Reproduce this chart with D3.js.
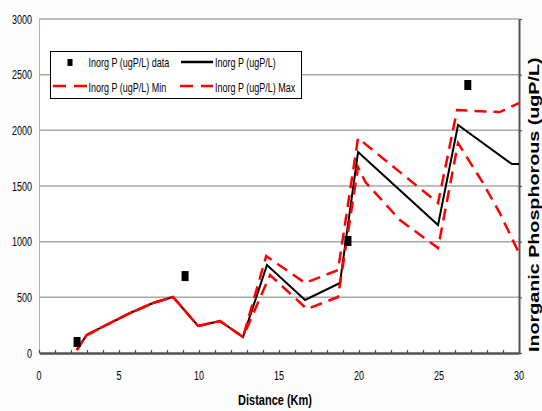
<!DOCTYPE html>
<html>
<head>
<meta charset="utf-8">
<script src="https://cdn.jsdelivr.net/npm/d3@7"></script>
<style>
  body { margin: 0; background: #fcfcfc; }
  svg text { font-family: "Liberation Sans", Arial, sans-serif; }
</style>
</head>
<body>
<div id="chart"></div>
<script>
var svgWidth = 542;
var svgHeight = 411;

// observed data (squares)
var dataKm = [2.38, 9.13, 19.31, 26.8];
var dataP = [99, 691, 1006, 2407];

// model line
var modelKm = [2.36, 2.98, 4.44, 5.69, 7.13, 8.38, 9.94, 11.31, 12.75, 14.25, 16.63, 18.81, 19.94, 24.94, 26.19, 29.56, 30];
var modelP = [27, 162, 269, 359, 449, 503, 243, 287, 144, 790, 476, 629, 1805, 1150, 2048, 1697, 1697];

// min envelope
var minKm = [2.36, 2.98, 4.44, 5.69, 7.13, 8.38, 9.94, 11.31, 12.75, 14.44, 16.75, 18.69, 19.94, 20.4, 22.56, 24.94, 26.19, 27.75, 28.8, 30];
var minP = [27, 162, 269, 359, 449, 503, 243, 287, 144, 700, 395, 503, 1670, 1535, 1194, 943, 1886, 1527, 1257, 898];

// max envelope
var maxKm = [2.36, 2.98, 4.44, 5.69, 7.13, 8.38, 9.94, 11.31, 12.75, 14.2, 16.63, 18.69, 19.94, 24.94, 26.13, 28.8, 30];
var maxP = [27, 162, 269, 359, 449, 503, 243, 287, 144, 871, 629, 745, 1930, 1347, 2182, 2164, 2245];

var xTicks = [0, 5, 10, 15, 20, 25, 30];
var yTicks = [0, 500, 1000, 1500, 2000, 2500, 3000];
var legendNames = ["Inorg P (ugP/L) data", "Inorg P (ugP/L)", "Inorg P (ugP/L) Min", "Inorg P (ugP/L) Max"];

var svg = d3.select("#chart").append("svg")
    .attr("width", svgWidth)
    .attr("height", svgHeight);

var x = d3.scaleLinear().domain([0, 30]).range([39, 519]);
var y = d3.scaleLinear().domain([0, 3000]).range([353, 19]);

// plot area + grid
svg.append("rect").attr("x", 39).attr("y", 19).attr("width", 480).attr("height", 334).attr("fill", "#fff");

svg.selectAll(".grid").data(yTicks.slice(1)).enter().append("line")
    .attr("x1", 39).attr("x2", 519)
    .attr("y1", d => y(d)).attr("y2", d => y(d))
    .attr("stroke", "#a8a8a8").attr("stroke-width", 1.5);

svg.append("line").attr("x1", 39.5).attr("x2", 39.5).attr("y1", 19).attr("y2", 353)
    .attr("stroke", "#b0b0b0").attr("stroke-width", 1);

// left tick labels
svg.selectAll(".ylab").data(yTicks).enter().append("text")
    .attr("transform", d => `translate(32,${y(d) + 4.5}) scale(1,1.4)`)
    .attr("text-anchor", "end")
    .attr("font-size", 9)
    .text(d => d);

// bottom axis with 1 km minor ticks pointing up
var xAxis = d3.axisBottom(x).tickValues(d3.range(0, 31, 1)).tickSizeInner(-3).tickSizeOuter(0).tickFormat("");
var gx = svg.append("g").attr("transform", "translate(0,353)").call(xAxis);
gx.select(".domain").attr("stroke", "#555").attr("stroke-width", 2.5);
gx.selectAll(".tick line").attr("stroke", "#444").attr("stroke-width", 1.2);

svg.selectAll(".xlab").data(xTicks).enter().append("text")
    .attr("transform", d => `translate(${x(d)},380) scale(1,1.4)`)
    .attr("text-anchor", "middle")
    .attr("font-size", 9)
    .text(d => d);

// right axis
var yAxisR = d3.axisRight(y).tickValues(yTicks).tickSizeInner(3).tickSizeOuter(0).tickFormat("");
var gy = svg.append("g").attr("transform", "translate(519,0)").call(yAxisR);
gy.select(".domain").attr("stroke", "#555").attr("stroke-width", 2);
gy.selectAll(".tick line").attr("stroke", "#555").attr("stroke-width", 1.2);

// lines
var line = d3.line().x(d => x(d[0])).y(d => y(d[1]));

svg.append("path")
    .datum(d3.zip(modelKm, modelP))
    .attr("d", line)
    .attr("fill", "none").attr("stroke", "#000").attr("stroke-width", 2);

svg.append("path")
    .datum(d3.zip(minKm, minP))
    .attr("d", line)
    .attr("fill", "none").attr("stroke", "#ff0000").attr("stroke-width", 2.5)
    .attr("stroke-dasharray", "12,7");

svg.append("path")
    .datum(d3.zip(maxKm, maxP))
    .attr("d", line)
    .attr("fill", "none").attr("stroke", "#ff0000").attr("stroke-width", 2.5)
    .attr("stroke-dasharray", "12,7")
    .attr("stroke-dashoffset", 5);

svg.selectAll(".pt").data(d3.zip(dataKm, dataP)).enter().append("rect")
    .attr("x", d => x(d[0]) - 3.5).attr("y", d => y(d[1]) - 5)
    .attr("width", 7).attr("height", 10)
    .attr("fill", "#000");

// axis titles
svg.append("text")
    .attr("transform", "translate(275,405) scale(1,1.4)")
    .attr("text-anchor", "middle")
    .attr("font-size", 11).attr("font-weight", "bold")
    .text("Distance (Km)");

svg.append("text")
    .attr("transform", "translate(538.5,352) rotate(-90) scale(1.36,1)")
    .attr("font-size", 14.5).attr("font-weight", "bold")
    .text("Inorganic Phosphorous (ugP/L)");

// legend
var lg = svg.append("g");
lg.append("rect").attr("x", 50.5).attr("y", 51.5).attr("width", 251).attr("height", 47)
    .attr("fill", "#fff").attr("stroke", "#000").attr("stroke-width", 1);

lg.append("rect").attr("x", 67.5).attr("y", 59).attr("width", 5).attr("height", 7).attr("fill", "#000");
lg.append("line").attr("x1", 181).attr("x2", 213).attr("y1", 62).attr("y2", 62)
    .attr("stroke", "#000").attr("stroke-width", 2.5);
lg.append("line").attr("x1", 53).attr("x2", 87).attr("y1", 86).attr("y2", 86)
    .attr("stroke", "#ff0000").attr("stroke-width", 2.5).attr("stroke-dasharray", "13,8");
lg.append("line").attr("x1", 180).attr("x2", 213).attr("y1", 86).attr("y2", 86)
    .attr("stroke", "#ff0000").attr("stroke-width", 2.5).attr("stroke-dasharray", "13,8");

var legPos = [[88.5, 67], [215, 67], [88.5, 91.5], [215, 91.5]];
lg.selectAll(".lt").data(legendNames).enter().append("text")
    .attr("transform", (d, i) => `translate(${legPos[i][0]},${legPos[i][1]}) scale(1,1.4)`)
    .attr("font-size", 9)
    .text(d => d);
</script>
</body>
</html>
